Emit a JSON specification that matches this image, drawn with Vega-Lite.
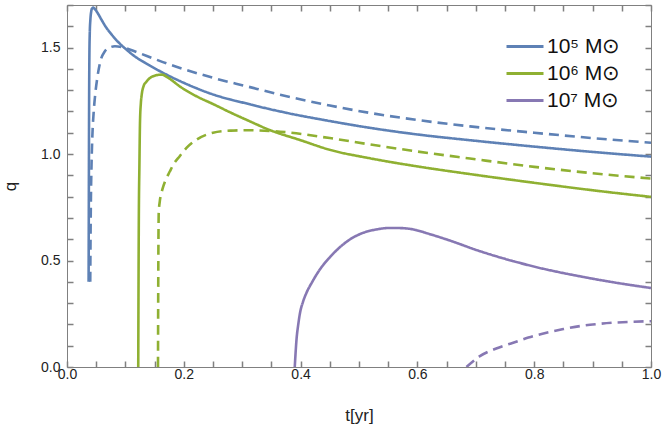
{
  "$schema": "https://vega.github.io/schema/vega-lite/v6.json",
  "width": 584,
  "height": 362,
  "autosize": "none",
  "padding": {"left": 67, "top": 5, "right": 13, "bottom": 62},
  "config": {
    "view": {"stroke": "#808080", "strokeWidth": 1},
    "font": "Liberation Sans",
    "axis": {"domain": false, "ticks": false, "labelColor": "#222", "labelFontSize": 14, "titleFontSize": 17, "titleFontWeight": "normal", "titleColor": "#222", "labelFont": "Liberation Sans", "titleFont": "Liberation Sans", "labelFlush": false}
  },
  "data": {"values": [
    {"mass": "10⁵ M⊙", "style": "solid", "t": 0.0370, "q": 0.40},
    {"mass": "10⁵ M⊙", "style": "solid", "t": 0.0374, "q": 0.80},
    {"mass": "10⁵ M⊙", "style": "solid", "t": 0.0378, "q": 1.20},
    {"mass": "10⁵ M⊙", "style": "solid", "t": 0.0383, "q": 1.45},
    {"mass": "10⁵ M⊙", "style": "solid", "t": 0.039, "q": 1.57},
    {"mass": "10⁵ M⊙", "style": "solid", "t": 0.040, "q": 1.63},
    {"mass": "10⁵ M⊙", "style": "solid", "t": 0.0415, "q": 1.67},
    {"mass": "10⁵ M⊙", "style": "solid", "t": 0.043, "q": 1.684},
    {"mass": "10⁵ M⊙", "style": "solid", "t": 0.045, "q": 1.688},
    {"mass": "10⁵ M⊙", "style": "solid", "t": 0.048, "q": 1.68},
    {"mass": "10⁵ M⊙", "style": "solid", "t": 0.053, "q": 1.66},
    {"mass": "10⁵ M⊙", "style": "solid", "t": 0.059, "q": 1.631},
    {"mass": "10⁵ M⊙", "style": "solid", "t": 0.067, "q": 1.595},
    {"mass": "10⁵ M⊙", "style": "solid", "t": 0.0765, "q": 1.561},
    {"mass": "10⁵ M⊙", "style": "solid", "t": 0.088, "q": 1.525},
    {"mass": "10⁵ M⊙", "style": "solid", "t": 0.102, "q": 1.49},
    {"mass": "10⁵ M⊙", "style": "solid", "t": 0.117, "q": 1.457},
    {"mass": "10⁵ M⊙", "style": "solid", "t": 0.134, "q": 1.428},
    {"mass": "10⁵ M⊙", "style": "solid", "t": 0.162, "q": 1.385},
    {"mass": "10⁵ M⊙", "style": "solid", "t": 0.202, "q": 1.332},
    {"mass": "10⁵ M⊙", "style": "solid", "t": 0.250, "q": 1.28},
    {"mass": "10⁵ M⊙", "style": "solid", "t": 0.308, "q": 1.237},
    {"mass": "10⁵ M⊙", "style": "solid", "t": 0.365, "q": 1.20},
    {"mass": "10⁵ M⊙", "style": "solid", "t": 0.450, "q": 1.155},
    {"mass": "10⁵ M⊙", "style": "solid", "t": 0.519, "q": 1.123},
    {"mass": "10⁵ M⊙", "style": "solid", "t": 0.600, "q": 1.092},
    {"mass": "10⁵ M⊙", "style": "solid", "t": 0.690, "q": 1.065},
    {"mass": "10⁵ M⊙", "style": "solid", "t": 0.800, "q": 1.035},
    {"mass": "10⁵ M⊙", "style": "solid", "t": 0.900, "q": 1.01},
    {"mass": "10⁵ M⊙", "style": "solid", "t": 1.000, "q": 0.988},

    {"mass": "10⁵ M⊙", "style": "dashed", "t": 0.0398, "q": 0.40},
    {"mass": "10⁵ M⊙", "style": "dashed", "t": 0.0403, "q": 0.60},
    {"mass": "10⁵ M⊙", "style": "dashed", "t": 0.041, "q": 0.80},
    {"mass": "10⁵ M⊙", "style": "dashed", "t": 0.042, "q": 0.95},
    {"mass": "10⁵ M⊙", "style": "dashed", "t": 0.0435, "q": 1.09},
    {"mass": "10⁵ M⊙", "style": "dashed", "t": 0.0455, "q": 1.19},
    {"mass": "10⁵ M⊙", "style": "dashed", "t": 0.048, "q": 1.271},
    {"mass": "10⁵ M⊙", "style": "dashed", "t": 0.052, "q": 1.36},
    {"mass": "10⁵ M⊙", "style": "dashed", "t": 0.0565, "q": 1.428},
    {"mass": "10⁵ M⊙", "style": "dashed", "t": 0.065, "q": 1.483},
    {"mass": "10⁵ M⊙", "style": "dashed", "t": 0.073, "q": 1.500},
    {"mass": "10⁵ M⊙", "style": "dashed", "t": 0.082, "q": 1.506},
    {"mass": "10⁵ M⊙", "style": "dashed", "t": 0.099, "q": 1.499},
    {"mass": "10⁵ M⊙", "style": "dashed", "t": 0.120, "q": 1.478},
    {"mass": "10⁵ M⊙", "style": "dashed", "t": 0.145, "q": 1.452},
    {"mass": "10⁵ M⊙", "style": "dashed", "t": 0.170, "q": 1.426},
    {"mass": "10⁵ M⊙", "style": "dashed", "t": 0.202, "q": 1.397},
    {"mass": "10⁵ M⊙", "style": "dashed", "t": 0.250, "q": 1.358},
    {"mass": "10⁵ M⊙", "style": "dashed", "t": 0.308, "q": 1.318},
    {"mass": "10⁵ M⊙", "style": "dashed", "t": 0.365, "q": 1.279},
    {"mass": "10⁵ M⊙", "style": "dashed", "t": 0.450, "q": 1.228},
    {"mass": "10⁵ M⊙", "style": "dashed", "t": 0.519, "q": 1.193},
    {"mass": "10⁵ M⊙", "style": "dashed", "t": 0.600, "q": 1.16},
    {"mass": "10⁵ M⊙", "style": "dashed", "t": 0.690, "q": 1.13},
    {"mass": "10⁵ M⊙", "style": "dashed", "t": 0.800, "q": 1.10},
    {"mass": "10⁵ M⊙", "style": "dashed", "t": 0.900, "q": 1.075},
    {"mass": "10⁵ M⊙", "style": "dashed", "t": 1.000, "q": 1.053},

    {"mass": "10⁶ M⊙", "style": "solid", "t": 0.122, "q": 0.0},
    {"mass": "10⁶ M⊙", "style": "solid", "t": 0.1225, "q": 0.4},
    {"mass": "10⁶ M⊙", "style": "solid", "t": 0.123, "q": 0.7},
    {"mass": "10⁶ M⊙", "style": "solid", "t": 0.124, "q": 0.95},
    {"mass": "10⁶ M⊙", "style": "solid", "t": 0.125, "q": 1.15},
    {"mass": "10⁶ M⊙", "style": "solid", "t": 0.1265, "q": 1.24},
    {"mass": "10⁶ M⊙", "style": "solid", "t": 0.128, "q": 1.28},
    {"mass": "10⁶ M⊙", "style": "solid", "t": 0.131, "q": 1.318},
    {"mass": "10⁶ M⊙", "style": "solid", "t": 0.136, "q": 1.34},
    {"mass": "10⁶ M⊙", "style": "solid", "t": 0.142, "q": 1.357},
    {"mass": "10⁶ M⊙", "style": "solid", "t": 0.150, "q": 1.368},
    {"mass": "10⁶ M⊙", "style": "solid", "t": 0.162, "q": 1.373},
    {"mass": "10⁶ M⊙", "style": "solid", "t": 0.175, "q": 1.355},
    {"mass": "10⁶ M⊙", "style": "solid", "t": 0.193, "q": 1.318},
    {"mass": "10⁶ M⊙", "style": "solid", "t": 0.222, "q": 1.271},
    {"mass": "10⁶ M⊙", "style": "solid", "t": 0.250, "q": 1.235},
    {"mass": "10⁶ M⊙", "style": "solid", "t": 0.280, "q": 1.195},
    {"mass": "10⁶ M⊙", "style": "solid", "t": 0.308, "q": 1.16},
    {"mass": "10⁶ M⊙", "style": "solid", "t": 0.348, "q": 1.112},
    {"mass": "10⁶ M⊙", "style": "solid", "t": 0.400, "q": 1.065},
    {"mass": "10⁶ M⊙", "style": "solid", "t": 0.450, "q": 1.02},
    {"mass": "10⁶ M⊙", "style": "solid", "t": 0.519, "q": 0.98},
    {"mass": "10⁶ M⊙", "style": "solid", "t": 0.600, "q": 0.942},
    {"mass": "10⁶ M⊙", "style": "solid", "t": 0.690, "q": 0.906},
    {"mass": "10⁶ M⊙", "style": "solid", "t": 0.800, "q": 0.865},
    {"mass": "10⁶ M⊙", "style": "solid", "t": 0.900, "q": 0.83},
    {"mass": "10⁶ M⊙", "style": "solid", "t": 1.000, "q": 0.799},

    {"mass": "10⁶ M⊙", "style": "dashed", "t": 0.1558, "q": 0.0},
    {"mass": "10⁶ M⊙", "style": "dashed", "t": 0.1562, "q": 0.35},
    {"mass": "10⁶ M⊙", "style": "dashed", "t": 0.1566, "q": 0.6},
    {"mass": "10⁶ M⊙", "style": "dashed", "t": 0.157, "q": 0.72},
    {"mass": "10⁶ M⊙", "style": "dashed", "t": 0.159, "q": 0.78},
    {"mass": "10⁶ M⊙", "style": "dashed", "t": 0.162, "q": 0.82},
    {"mass": "10⁶ M⊙", "style": "dashed", "t": 0.165, "q": 0.849},
    {"mass": "10⁶ M⊙", "style": "dashed", "t": 0.170, "q": 0.885},
    {"mass": "10⁶ M⊙", "style": "dashed", "t": 0.176, "q": 0.918},
    {"mass": "10⁶ M⊙", "style": "dashed", "t": 0.182, "q": 0.950},
    {"mass": "10⁶ M⊙", "style": "dashed", "t": 0.193, "q": 0.99},
    {"mass": "10⁶ M⊙", "style": "dashed", "t": 0.205, "q": 1.03},
    {"mass": "10⁶ M⊙", "style": "dashed", "t": 0.222, "q": 1.068},
    {"mass": "10⁶ M⊙", "style": "dashed", "t": 0.250, "q": 1.10},
    {"mass": "10⁶ M⊙", "style": "dashed", "t": 0.280, "q": 1.11},
    {"mass": "10⁶ M⊙", "style": "dashed", "t": 0.308, "q": 1.112},
    {"mass": "10⁶ M⊙", "style": "dashed", "t": 0.365, "q": 1.105},
    {"mass": "10⁶ M⊙", "style": "dashed", "t": 0.450, "q": 1.075},
    {"mass": "10⁶ M⊙", "style": "dashed", "t": 0.519, "q": 1.045},
    {"mass": "10⁶ M⊙", "style": "dashed", "t": 0.600, "q": 1.012},
    {"mass": "10⁶ M⊙", "style": "dashed", "t": 0.690, "q": 0.979},
    {"mass": "10⁶ M⊙", "style": "dashed", "t": 0.800, "q": 0.94},
    {"mass": "10⁶ M⊙", "style": "dashed", "t": 0.900, "q": 0.91},
    {"mass": "10⁶ M⊙", "style": "dashed", "t": 1.000, "q": 0.885},

    {"mass": "10⁷ M⊙", "style": "solid", "t": 0.390, "q": 0.0},
    {"mass": "10⁷ M⊙", "style": "solid", "t": 0.3915, "q": 0.07},
    {"mass": "10⁷ M⊙", "style": "solid", "t": 0.393, "q": 0.129},
    {"mass": "10⁷ M⊙", "style": "solid", "t": 0.396, "q": 0.20},
    {"mass": "10⁷ M⊙", "style": "solid", "t": 0.399, "q": 0.254},
    {"mass": "10⁷ M⊙", "style": "solid", "t": 0.404, "q": 0.305},
    {"mass": "10⁷ M⊙", "style": "solid", "t": 0.410, "q": 0.348},
    {"mass": "10⁷ M⊙", "style": "solid", "t": 0.420, "q": 0.40},
    {"mass": "10⁷ M⊙", "style": "solid", "t": 0.433, "q": 0.458},
    {"mass": "10⁷ M⊙", "style": "solid", "t": 0.450, "q": 0.515},
    {"mass": "10⁷ M⊙", "style": "solid", "t": 0.467, "q": 0.562},
    {"mass": "10⁷ M⊙", "style": "solid", "t": 0.485, "q": 0.60},
    {"mass": "10⁷ M⊙", "style": "solid", "t": 0.507, "q": 0.63},
    {"mass": "10⁷ M⊙", "style": "solid", "t": 0.530, "q": 0.646},
    {"mass": "10⁷ M⊙", "style": "solid", "t": 0.553, "q": 0.653},
    {"mass": "10⁷ M⊙", "style": "solid", "t": 0.575, "q": 0.652},
    {"mass": "10⁷ M⊙", "style": "solid", "t": 0.593, "q": 0.646},
    {"mass": "10⁷ M⊙", "style": "solid", "t": 0.620, "q": 0.625},
    {"mass": "10⁷ M⊙", "style": "solid", "t": 0.650, "q": 0.599},
    {"mass": "10⁷ M⊙", "style": "solid", "t": 0.707, "q": 0.544},
    {"mass": "10⁷ M⊙", "style": "solid", "t": 0.764, "q": 0.497},
    {"mass": "10⁷ M⊙", "style": "solid", "t": 0.821, "q": 0.458},
    {"mass": "10⁷ M⊙", "style": "solid", "t": 0.878, "q": 0.426},
    {"mass": "10⁷ M⊙", "style": "solid", "t": 0.935, "q": 0.398},
    {"mass": "10⁷ M⊙", "style": "solid", "t": 1.000, "q": 0.371},

    {"mass": "10⁷ M⊙", "style": "dashed", "t": 0.684, "q": 0.0},
    {"mass": "10⁷ M⊙", "style": "dashed", "t": 0.707, "q": 0.051},
    {"mass": "10⁷ M⊙", "style": "dashed", "t": 0.735, "q": 0.087},
    {"mass": "10⁷ M⊙", "style": "dashed", "t": 0.764, "q": 0.114},
    {"mass": "10⁷ M⊙", "style": "dashed", "t": 0.790, "q": 0.138},
    {"mass": "10⁷ M⊙", "style": "dashed", "t": 0.821, "q": 0.161},
    {"mass": "10⁷ M⊙", "style": "dashed", "t": 0.850, "q": 0.178},
    {"mass": "10⁷ M⊙", "style": "dashed", "t": 0.878, "q": 0.192},
    {"mass": "10⁷ M⊙", "style": "dashed", "t": 0.905, "q": 0.201},
    {"mass": "10⁷ M⊙", "style": "dashed", "t": 0.935, "q": 0.208},
    {"mass": "10⁷ M⊙", "style": "dashed", "t": 0.965, "q": 0.212},
    {"mass": "10⁷ M⊙", "style": "dashed", "t": 1.000, "q": 0.215}
  ]},
  "mark": {"type": "line", "strokeWidth": 2.6, "clip": true, "interpolate": "monotone"},
  "encoding": {
    "x": {"field": "t", "type": "quantitative", "scale": {"domain": [0, 1], "nice": false},
      "axis": {"orient": "bottom", "title": "t[yr]", "titlePadding": 26,
        "values": [0,0.05,0.1,0.15,0.2,0.25,0.3,0.35,0.4,0.45,0.5,0.55,0.6,0.65,0.7,0.75,0.8,0.85,0.9,0.95,1.0],
        "format": ".1f",
        "labelExpr": "abs(datum.value*5-round(datum.value*5))<0.001 ? datum.label : ''",
        "grid": true, "gridColor": "#808080", "gridWidth": 1.5, "gridDash": [6, 350, 6],
        "labelPadding": 0}},
    "y": {"field": "q", "type": "quantitative", "scale": {"domain": [0, 1.7], "nice": false},
      "axis": {"orient": "left", "title": "q", "titlePadding": 21,
        "values": [0,0.1,0.2,0.3,0.4,0.5,0.6,0.7,0.8,0.9,1.0,1.1,1.2,1.3,1.4,1.5,1.6,1.7],
        "format": ".1f",
        "labelExpr": "abs(datum.value*2-round(datum.value*2))<0.001 ? datum.label : ''",
        "grid": true, "gridColor": "#808080", "gridWidth": 1.5, "gridDash": [6, 572, 6],
        "labelPadding": 7}},
    "color": {"field": "mass", "type": "nominal",
      "scale": {"domain": ["10⁵ M⊙", "10⁶ M⊙", "10⁷ M⊙"], "range": ["#5E81B5", "#8FB032", "#8778B3"]},
      "legend": {"orient": "none", "legendX": 438, "legendY": 28, "title": null, "symbolType": "stroke", "symbolSize": 1369, "symbolStrokeWidth": 3, "labelFontSize": 21, "labelFont": "Liberation Sans", "labelColor": "#111", "rowPadding": 0, "clipHeight": 27, "labelOffset": 2}},
    "strokeDash": {"field": "style", "type": "nominal",
      "scale": {"domain": ["solid", "dashed"], "range": [[1, 0], [10, 6]]}, "legend": null}
  }
}
